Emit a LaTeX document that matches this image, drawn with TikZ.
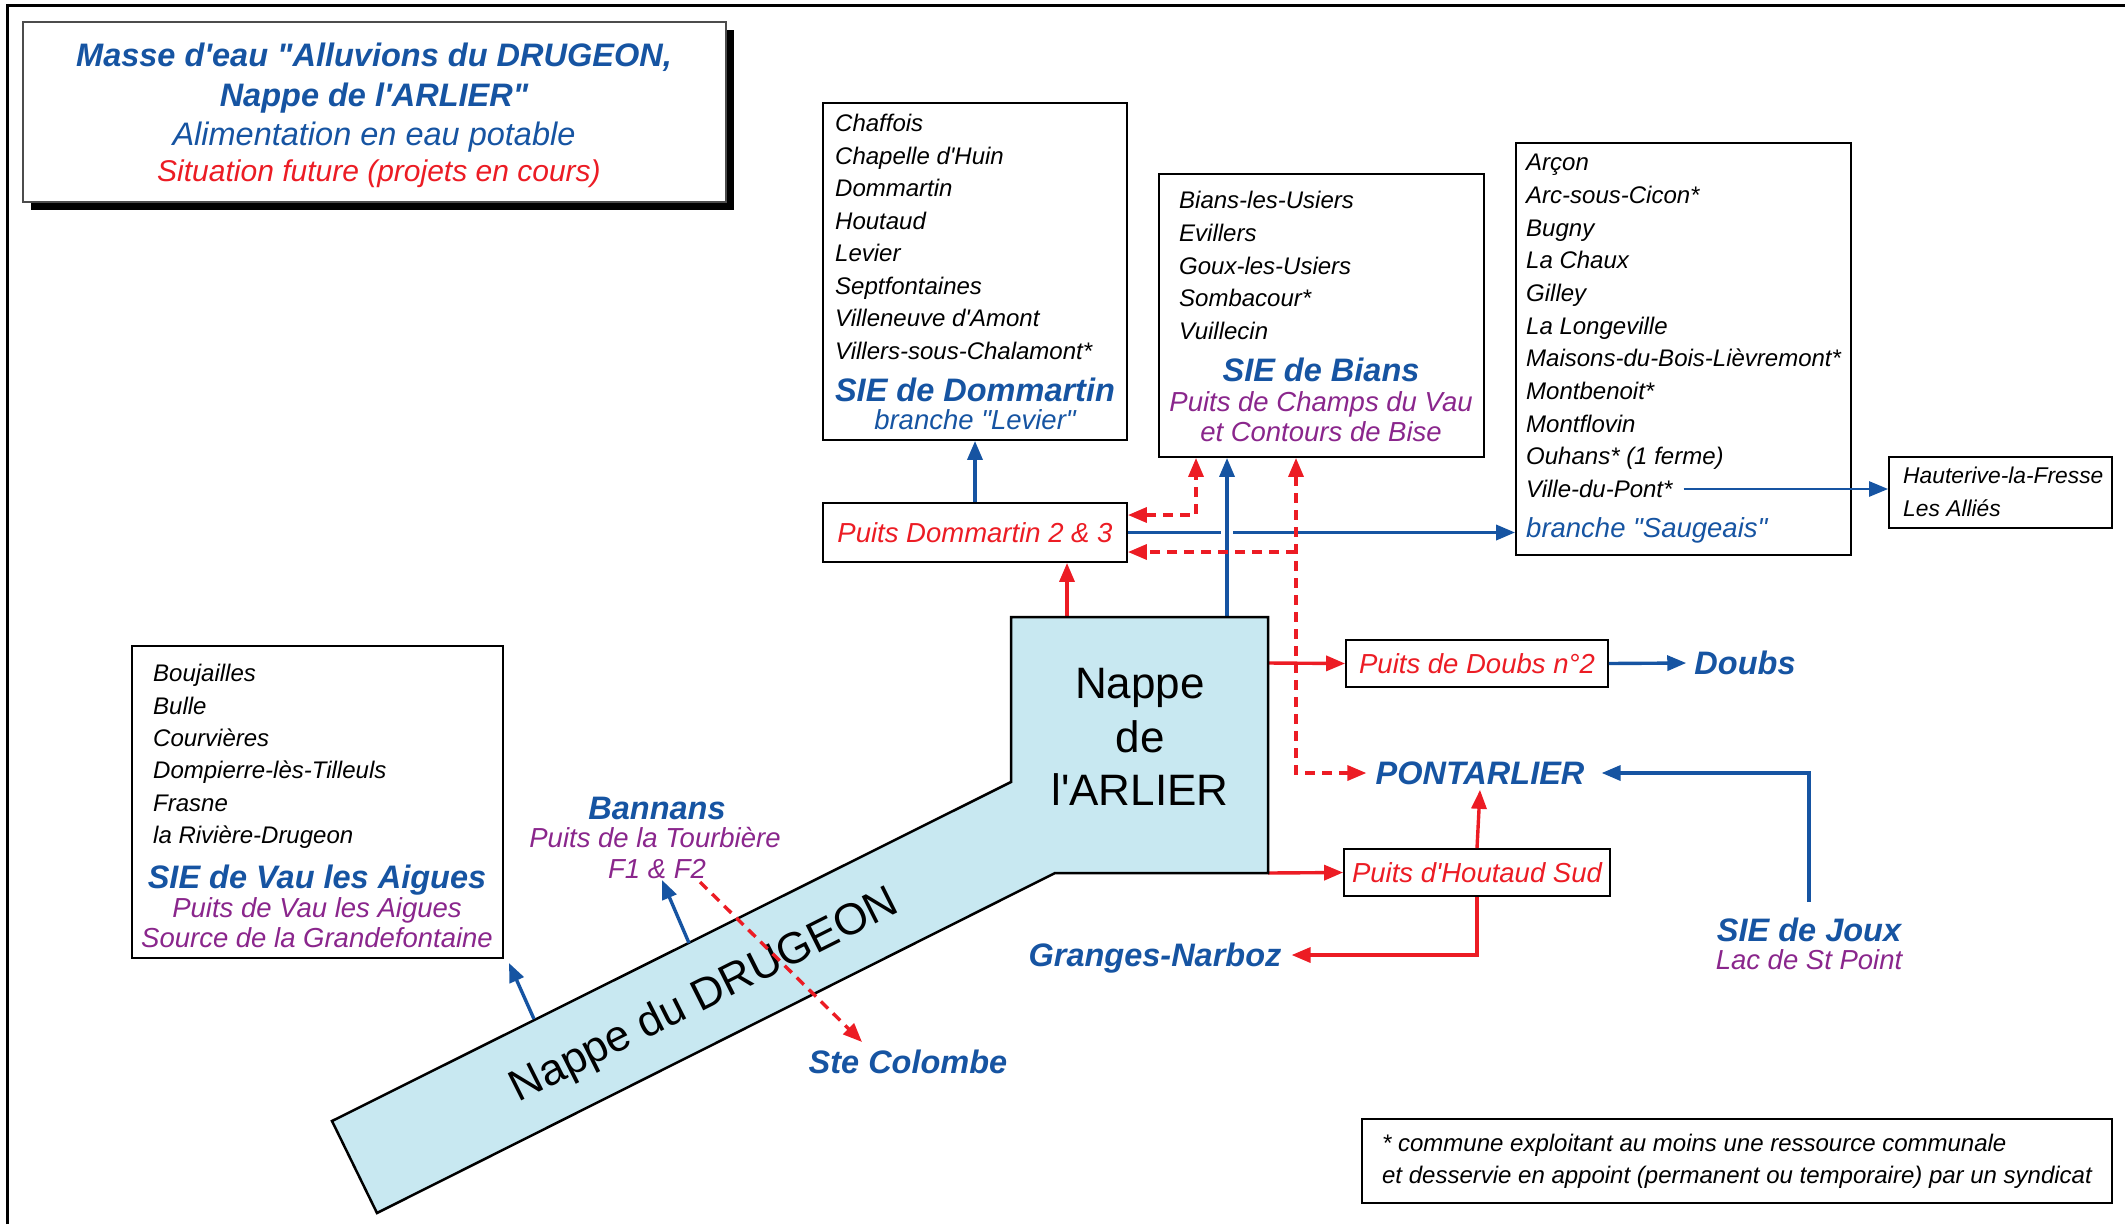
\documentclass[tikz,border=0pt]{standalone}
\usepackage{fontspec}
\setmainfont{Liberation Sans}[Ligatures=TeXOff]
\usetikzlibrary{arrows.meta}
\definecolor{ablue}{RGB}{22,84,162}
\definecolor{ared}{RGB}{236,28,36}
\definecolor{apurple}{RGB}{138,38,140}
\definecolor{afill}{RGB}{200,232,241}
\newcommand{\fList}{\fontsize{24}{30}\selectfont\itshape}
\newcommand{\fSub}{\fontsize{27.5}{33}\selectfont\itshape}
\newcommand{\fHead}{\fontsize{32.5}{39}\selectfont\bfseries\itshape}
\newcommand{\fBig}{\fontsize{44}{54}\selectfont}
\tikzset{
  box/.style={draw=black, line width=1.8pt, fill=white, inner sep=0pt},
  litem/.style={anchor=west, inner sep=0pt, font=\fList, text height=17.2pt, text depth=0pt},
  subline/.style={inner sep=0pt, font=\fSub, text height=19.7pt, text depth=0pt},
  headline/.style={inner sep=0pt, font=\fHead, text height=23.3pt, text depth=0pt},
  bigline/.style={inner sep=0pt, font=\fBig, text height=31.5pt, text depth=0pt},
  arrtip/.style={-{Triangle[length=19pt,width=15pt]}},
  dbltip/.style={{Triangle[length=19pt,width=15pt]}-{Triangle[length=19pt,width=15pt]}},
  bluearr/.style={draw=ablue, line width=3.4pt, arrtip},
  redarr/.style={draw=ared, line width=3.4pt, arrtip},
  reddash/.style={draw=ared, line width=3.4pt, dash pattern=on 10pt off 7pt},
}
\begin{document}
\begin{tikzpicture}[x=1pt,y=-1pt]
\useasboundingbox (0,0) rectangle (2125,1224);
% outer frame
\draw[line width=3pt] (7,1224) -- (7,5) -- (2125,5);

% title
\node[fill=black, minimum width=703pt, minimum height=180pt, inner sep=0pt] (titleshadow) at (382.5,120) {};
\node[box, draw=gray!60!black, line width=1.2pt, minimum width=703pt, minimum height=180pt] (title) at (374.5,112) {};
\node[headline, text=ablue] (t1) at (374,55) {Masse d'eau "Alluvions du DRUGEON,};
\node[headline, text=ablue] (t2) at (374,95) {Nappe de l'ARLIER"};
\node[inner sep=0pt, font=\fontsize{32.5}{39}\selectfont\itshape, text height=23.3pt, text depth=0pt, text=ablue] (t3) at (374,134) {Alimentation en eau potable};
\node[inner sep=0pt, font=\fontsize{30}{36}\selectfont\itshape, text height=21.5pt, text depth=0pt, text=ared] (t4) at (379,171) {Situation future (projets en cours)};

% SIE de Dommartin
\node[box, minimum width=304pt, minimum height=337pt] (dombox) at (975,271.5) {};
\foreach \t [count=\i] in {Chaffois, Chapelle d'Huin, Dommartin, Houtaud, Levier, Septfontaines, Villeneuve d'Amont, Villers-sous-Chalamont*}
  \node[litem] (dom\i) at (835,{123+32.5*(\i-1)}) {\t};
\node[headline, text=ablue] (domsie) at (975,390) {SIE de Dommartin};
\node[subline, text=ablue] (domlev) at (975,420) {branche "Levier"};

\node[box, minimum width=304pt, minimum height=59pt, font=\fSub, text=ared] (pdom) at (975,532.5) {Puits Dommartin 2 \& 3};

% SIE de Bians
\node[box, minimum width=325pt, minimum height=283pt] (bians) at (1321.5,315.5) {};
\foreach \t [count=\i] in {Bians-les-Usiers, Evillers, Goux-les-Usiers, Sombacour*, Vuillecin}
  \node[litem] (bia\i) at (1179,{200+32.7*(\i-1)}) {\t};
\node[headline, text=ablue] (biansie) at (1321,370) {SIE de Bians};
\node[subline, text=apurple] (bianp1) at (1321,402) {Puits de Champs du Vau};
\node[subline, text=apurple] (bianp2) at (1321,432) {et Contours de Bise};

% Saugeais
\node[box, minimum width=335pt, minimum height=412pt] (saug) at (1683.5,349) {};
\foreach \t [count=\i] in {Arçon, Arc-sous-Cicon*, Bugny, La Chaux, Gilley, La Longeville, Maisons-du-Bois-Lièvremont*, Montbenoit*, Montflovin, Ouhans* (1 ferme), Ville-du-Pont*}
  \node[litem] (sg\i) at (1526,{162+32.7*(\i-1)}) {\t};
\node[subline, anchor=west, text=ablue] (saugbr) at (1526,528) {branche "Saugeais"};

% Hauterive
\node[box, minimum width=223pt, minimum height=71pt] (haut) at (2000.5,492.5) {};
\foreach \t [count=\i] in {Hauterive-la-Fresse, Les Alliés}
  \node[litem, font=\fontsize{22.8}{28}\selectfont\itshape, text height=16.4pt] (ha\i) at (1903,{475+33*(\i-1)}) {\t};

% Vau les Aigues
\node[box, minimum width=371pt, minimum height=312pt] (vau) at (317.5,802) {};
\foreach \t [count=\i] in {Boujailles, Bulle, Courvières, Dompierre-lès-Tilleuls, Frasne, la Rivière-Drugeon}
  \node[litem] (va\i) at (153,{673+32.4*(\i-1)}) {\t};
\node[headline, text=ablue] (vausie) at (317,877) {SIE de Vau les Aigues};
\node[subline, text=apurple] (vaup1) at (317,908) {Puits de Vau les Aigues};
\node[subline, text=apurple] (vaup2) at (317,938) {Source de la Grandefontaine};

% Bannans
\node[headline, text=ablue] (bannans) at (657,808) {Bannans};
\node[subline, text=apurple] (bannp1) at (655,838) {Puits de la Tourbière};
\node[subline, text=apurple] (bannp2) at (657,869) {F1 \& F2};

% wells and destinations
\node[box, minimum width=262pt, minimum height=47pt, font=\fSub, text=ared] (pdoubs) at (1477,663.5) {Puits de Doubs n°2};
\node[box, minimum width=266pt, minimum height=47pt, font=\fSub, text=ared] (phout) at (1477,872.5) {Puits d'Houtaud Sud};
\node[headline, text=ablue] (doubs) at (1745,663) {Doubs};
\node[headline, text=ablue] (pont) at (1480,773) {PONTARLIER};
\node[headline, text=ablue] (gn) at (1155,955) {Granges-Narboz};
\node[headline, text=ablue] (stec) at (908,1062) {Ste Colombe};
\node[headline, text=ablue] (joux) at (1809,930) {SIE de Joux};
\node[subline, text=apurple] (jouxp) at (1809,960) {Lac de St Point};

% footnote
\node[box, minimum width=750pt, minimum height=84pt, align=left, font=\fontsize{24}{32}\selectfont\itshape] (foot) at (1737,1161) {* commune exploitant au moins une ressource communale\\et desservie en appoint (permanent ou temporaire) par un syndicat};

% connectors
\coordinate (arT) at (1067,617);
\coordinate (arB) at (1227,617);
\coordinate (arR1) at (1268,663);
\coordinate (arR2) at (1268,873);
\coordinate (dA) at (1196,515);
\coordinate (dB) at (1296,552);

\draw[bluearr] (pdom.north) -- (dombox.south);
\draw[bluearr] (pdom.east) -- (pdom.east -| saug.west);
\draw[bluearr, preaction={draw=white, line width=12pt, -, shorten >=25pt}] (arB) -- (arB |- bians.south);
\draw[redarr] (arT) -- (arT |- pdom.south);
\draw[reddash, dbltip] (dA -| pdom.east) -| (dA |- bians.south);
\draw[reddash, dbltip] (dB |- bians.south) |- ([xshift=-9pt]pont.west);
\draw[reddash, arrtip] (dB) -- (dB -| pdom.east);
\draw[redarr] (arR1) -- (pdoubs.west);
\draw[bluearr] (pdoubs.east) -- ([xshift=-8pt]doubs.west);
\draw[redarr] (arR2) -- (phout.west);
\draw[redarr] (phout.north) -- ([yshift=-5pt]pont.south);
\draw[redarr] (phout.south) |- ([xshift=10pt]gn.east);
\draw[bluearr] ([yshift=16pt]joux.north) |- ([xshift=17pt]pont.east);
\draw[bluearr, line width=2.6pt] ([xshift=11pt]sg11.east) -- (sg11.east -| haut.west);

% aquifer shape
\draw[fill=afill, line width=2.5pt, line join=miter] (1011,617) -- (1268,617) -- (1268,873) -- (1055,873) -- (377,1213) -- (332,1121) -- (1011,782) -- cycle;
\node[bigline] (ar1) at (1140,683) {Nappe};
\node[bigline] (ar2) at (1140,737) {de};
\node[bigline] (ar3) at (1140,790) {l'ARLIER};
\node[bigline, rotate=26.6] (dru) at (703,993) {Nappe du DRUGEON};

% band arrows
\coordinate (bV0) at (534,1019);
\coordinate (bV1) at (509,963);
\coordinate (bB0) at (689,943);
\coordinate (bB1) at (662,880);
\coordinate (bS0) at (700,882);
\coordinate (scTip) at (862,1042);
\draw[bluearr] (bV0) -- (bV1);
\draw[bluearr] (bB0) -- (bB1);
\draw[reddash, arrtip] (bS0) -- (scTip);
\end{tikzpicture}
\end{document}
